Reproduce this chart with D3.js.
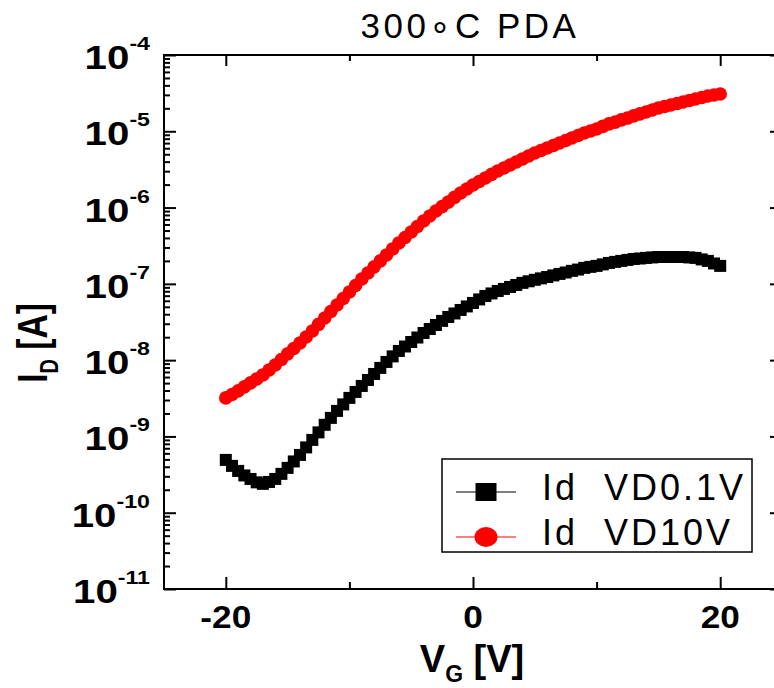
<!DOCTYPE html>
<html>
<head>
<meta charset="utf-8">
<script src="https://cdn.jsdelivr.net/npm/d3@7"></script>
<style>
  html, body { margin: 0; padding: 0; background: #fff; }
  svg { display: block; }
  text { font-family: "Liberation Sans", Arial, Helvetica, sans-serif; }
</style>
</head>
<body>
<svg id="chart" width="774" height="688"></svg>
<script>
// Transfer curves: drain current vs gate voltage, two drain biases (0.5 V sweep step)
const vg = [-20, -19.5, -19, -18.5, -18, -17.5, -17, -16.5, -16, -15.5, -15, -14.5, -14, -13.5, -13, -12.5,
  -12, -11.5, -11, -10.5, -10, -9.5, -9, -8.5, -8, -7.5, -7, -6.5, -6, -5.5, -5, -4.5, -4, -3.5, -3, -2.5,
  -2, -1.5, -1, -0.5, 0, 0.5, 1, 1.5, 2, 2.5, 3, 3.5, 4, 4.5, 5, 5.5, 6, 6.5, 7, 7.5, 8, 8.5, 9, 9.5,
  10, 10.5, 11, 11.5, 12, 12.5, 13, 13.5, 14, 14.5, 15, 15.5, 16, 16.5, 17, 17.5, 18, 18.5, 19, 19.5, 20];

const idVD01 = [
  4.92e-10, 4.11e-10, 3.53e-10, 3.08e-10, 2.77e-10, 2.50e-10, 2.39e-10, 2.53e-10, 2.77e-10, 3.23e-10,
  3.87e-10, 4.70e-10, 5.72e-10, 7.18e-10, 9.00e-10, 1.13e-9, 1.42e-9, 1.75e-9, 2.16e-9, 2.63e-9,
  3.20e-9, 3.83e-9, 4.59e-9, 5.50e-9, 6.59e-9, 7.91e-9, 9.47e-9, 1.12e-8, 1.32e-8, 1.51e-8,
  1.73e-8, 1.98e-8, 2.27e-8, 2.56e-8, 2.89e-8, 3.27e-8, 3.68e-8, 4.09e-8, 4.55e-8, 5.06e-8,
  5.62e-8, 6.25e-8, 6.94e-8, 7.49e-8, 8.07e-8, 8.58e-8, 9.11e-8, 9.67e-8, 1.03e-7, 1.08e-7,
  1.13e-7, 1.18e-7, 1.23e-7, 1.29e-7, 1.35e-7, 1.41e-7, 1.48e-7, 1.54e-7, 1.62e-7, 1.67e-7,
  1.72e-7, 1.80e-7, 1.88e-7, 1.94e-7, 2.00e-7, 2.06e-7, 2.12e-7, 2.15e-7, 2.19e-7, 2.22e-7,
  2.25e-7, 2.25e-7, 2.25e-7, 2.25e-7, 2.25e-7, 2.22e-7, 2.19e-7, 2.09e-7, 2.00e-7, 1.85e-7, 1.72e-7];

const idVD10 = [
  3.20e-9, 3.55e-9, 3.95e-9, 4.46e-9, 5.03e-9, 5.67e-9, 6.40e-9, 7.44e-9, 8.65e-9, 1.02e-8,
  1.21e-8, 1.42e-8, 1.68e-8, 2.01e-8, 2.41e-8, 2.94e-8, 3.57e-8, 4.35e-8, 5.29e-8, 6.44e-8,
  7.83e-8, 9.53e-8, 1.16e-7, 1.39e-7, 1.67e-7, 2.00e-7, 2.39e-7, 2.87e-7, 3.44e-7, 4.06e-7,
  4.79e-7, 5.65e-7, 6.67e-7, 7.76e-7, 9.02e-7, 1.03e-6, 1.18e-6, 1.36e-6, 1.55e-6, 1.75e-6,
  1.98e-6, 2.20e-6, 2.44e-6, 2.72e-6, 3.02e-6, 3.30e-6, 3.62e-6, 3.96e-6, 4.34e-6, 4.75e-6,
  5.20e-6, 5.60e-6, 6.04e-6, 6.52e-6, 7.03e-6, 7.58e-6, 8.17e-6, 8.81e-6, 9.50e-6, 1.01e-5,
  1.07e-5, 1.16e-5, 1.25e-5, 1.32e-5, 1.41e-5, 1.49e-5, 1.59e-5, 1.69e-5, 1.79e-5, 1.90e-5,
  2.02e-5, 2.11e-5, 2.21e-5, 2.31e-5, 2.42e-5, 2.53e-5, 2.65e-5, 2.77e-5, 2.90e-5, 2.99e-5, 3.08e-5];

const xMajorTicks = [-20, 0, 20];
const xMinorTicks = [-10, 10];
const yDecadeExps = [-4, -5, -6, -7, -8, -9, -10, -11];
const seriesNames = ["Id  VD0.1V", "Id  VD10V"];
const titleText = "300\u2218C PDA";

const svg = d3.select("#chart");

const plotLeft = 164, plotTop = 55, plotRight = 782, plotBottom = 589;
const x = d3.scaleLinear().domain([-25, 25]).range([plotLeft, plotRight]);
const y = d3.scaleLog().domain([1e-11, 1e-4]).range([plotBottom, plotTop]);

// plot area clip
svg.append("defs").append("clipPath").attr("id", "plotClip")
  .append("rect").attr("x", plotLeft).attr("y", plotTop)
  .attr("width", plotRight - plotLeft).attr("height", plotBottom - plotTop);

// ---- ticks (all pointing inward) ----
const majorY = yDecadeExps.map(e => Math.pow(10, e));
const minorY = y.ticks().filter(v => {
  const m = Math.round(v / Math.pow(10, Math.floor(Math.log10(v) + 1e-9)));
  return m !== 1;
});

function tickGroup(axis, tx, ty) {
  const g = svg.append("g").attr("transform", `translate(${tx},${ty})`).call(axis);
  g.select(".domain").remove();
  g.selectAll(".tick text").remove();
  g.selectAll(".tick line").attr("stroke", "#000").attr("stroke-width", 2);
  return g;
}

tickGroup(d3.axisLeft(y).tickValues(majorY).tickSize(-12).tickFormat(""), plotLeft, 0);
tickGroup(d3.axisLeft(y).tickValues(minorY).tickSize(-6).tickFormat(""), plotLeft, 0);
tickGroup(d3.axisRight(y).tickValues(majorY).tickSize(-12).tickFormat(""), plotRight, 0);
tickGroup(d3.axisRight(y).tickValues(minorY).tickSize(-6).tickFormat(""), plotRight, 0);
tickGroup(d3.axisBottom(x).tickValues(xMajorTicks).tickSize(-12).tickFormat(""), 0, plotBottom);
tickGroup(d3.axisBottom(x).tickValues(xMinorTicks).tickSize(-7).tickFormat(""), 0, plotBottom);
tickGroup(d3.axisTop(x).tickValues(xMajorTicks).tickSize(-11).tickFormat(""), 0, plotTop);
tickGroup(d3.axisTop(x).tickValues(xMinorTicks).tickSize(-6).tickFormat(""), 0, plotTop);

// frame
svg.append("rect")
  .attr("x", plotLeft).attr("y", plotTop)
  .attr("width", plotRight - plotLeft).attr("height", plotBottom - plotTop)
  .attr("fill", "none").attr("stroke", "#000").attr("stroke-width", 2);

// ---- data ----
const plot = svg.append("g").attr("clip-path", "url(#plotClip)");
const line = d3.line().x(d => x(d[0])).y(d => y(d[1]));

const redPts = vg.map((v, i) => [v, idVD10[i]]);
const blackPts = vg.map((v, i) => [v, idVD01[i]]);

plot.append("path").datum(redPts).attr("d", line)
  .attr("fill", "none").attr("stroke", "#ff0000").attr("stroke-width", 1.5);
plot.selectAll("circle.vd10").data(redPts).join("circle")
  .attr("class", "vd10")
  .attr("cx", d => x(d[0])).attr("cy", d => y(d[1])).attr("r", 6.8)
  .attr("fill", "#ff0000");

plot.append("path").datum(blackPts).attr("d", line)
  .attr("fill", "none").attr("stroke", "#000").attr("stroke-width", 1.5);
plot.selectAll("rect.vd01").data(blackPts).join("rect")
  .attr("class", "vd01")
  .attr("x", d => x(d[0]) - 6).attr("y", d => y(d[1]) - 6)
  .attr("width", 12).attr("height", 12)
  .attr("fill", "#000");

// ---- tick labels ----
yDecadeExps.forEach(e => {
  const g = svg.append("g").attr("transform", `translate(150,${y(Math.pow(10, e)) + 14})`);
  const t = g.append("text").attr("transform", "scale(1.22,1)")
    .attr("text-anchor", "end").attr("font-weight", "bold").attr("font-size", 33).attr("fill", "#000");
  t.append("tspan").text("10");
  t.append("tspan").attr("font-size", 19).attr("dy", -19).text(String(e));
});

xMajorTicks.forEach(v => {
  svg.append("g").attr("transform", `translate(${x(v)},628)`)
    .append("text").attr("transform", "scale(1.1,1)")
    .attr("text-anchor", "middle").attr("font-weight", "bold").attr("font-size", 32)
    .text(String(v));
});

// ---- title & axis titles ----
svg.append("text").attr("x", 470).attr("y", 38)
  .attr("text-anchor", "middle").attr("font-size", 35).attr("letter-spacing", 3.5)
  .text(titleText);

const xt = svg.append("text").attr("x", 472).attr("y", 672)
  .attr("text-anchor", "middle").attr("font-weight", "bold").attr("font-size", 38);
xt.append("tspan").text("V");
xt.append("tspan").attr("font-size", 23).attr("dy", 10).text("G");
xt.append("tspan").attr("dy", -10).text(" [V]");

const yt = svg.append("text").attr("transform", "translate(47,343) rotate(-90) scale(0.8,1)")
  .attr("text-anchor", "middle").attr("font-weight", "bold").attr("font-size", 42);
yt.append("tspan").text("I");
yt.append("tspan").attr("font-size", 25).attr("dy", 11).text("D");
yt.append("tspan").attr("dy", -11).text(" [A]");

// ---- legend ----
const lg = svg.append("g");
lg.append("rect").attr("x", 442).attr("y", 459).attr("width", 310).attr("height", 93)
  .attr("fill", "#fff").attr("stroke", "#000").attr("stroke-width", 1.5);

const rows = [
  { name: seriesNames[0], color: "#000", cy: 492, base: 500, shape: "square" },
  { name: seriesNames[1], color: "#ff0000", cy: 537, base: 545, shape: "circle" }
];
rows.forEach(r => {
  lg.append("line").attr("x1", 456).attr("x2", 516).attr("y1", r.cy).attr("y2", r.cy)
    .attr("stroke", r.color).attr("stroke-width", 1.2);
  if (r.shape === "square") {
    lg.append("rect").attr("x", 486 - 10.5).attr("y", r.cy - 9).attr("width", 21).attr("height", 18).attr("fill", r.color);
  } else {
    lg.append("ellipse").attr("cx", 486).attr("cy", r.cy).attr("rx", 11.5).attr("ry", 10).attr("fill", r.color);
  }
  lg.append("text").attr("x", 542).attr("y", r.base)
    .attr("font-size", 36).attr("letter-spacing", 3).style("white-space", "pre")
    .text(r.name);
});
</script>
</body>
</html>
